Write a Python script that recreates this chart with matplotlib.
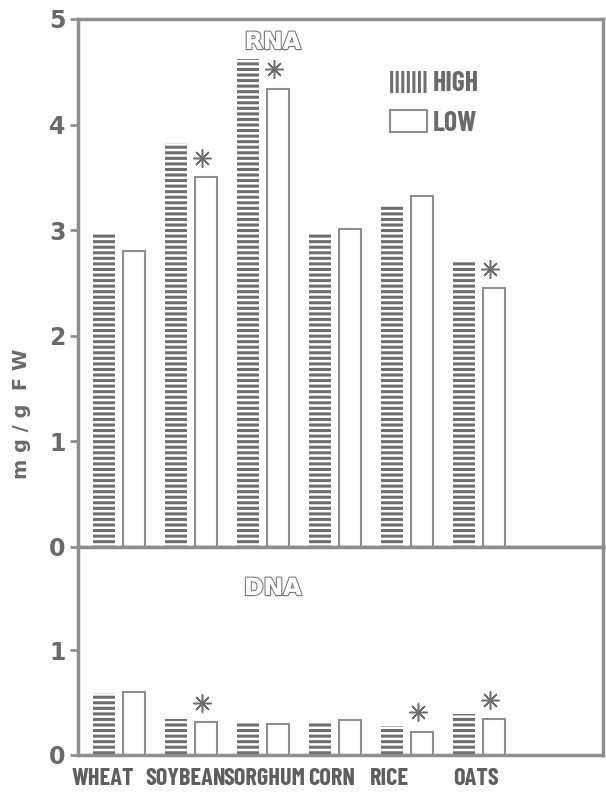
import matplotlib
matplotlib.use("Agg")
import matplotlib.pyplot as plt
import numpy as np
from matplotlib.patches import Patch
import matplotlib.patheffects as pe

plt.rcParams['hatch.linewidth'] = 2.2

crops = ["WHEAT", "SOYBEAN", "SORGHUM", "CORN", "RICE", "OATS"]
rna_high = [2.97, 3.83, 4.62, 2.97, 3.24, 2.71]
rna_low = [2.80, 3.50, 4.34, 3.01, 3.32, 2.45]
dna_high = [0.59, 0.34, 0.32, 0.32, 0.28, 0.39]
dna_low = [0.60, 0.31, 0.30, 0.33, 0.22, 0.34]
rna_sig = [False, True, True, False, False, True]
dna_sig = [False, True, False, False, True, True]
rna_ticks = [0, 1, 2, 3, 4, 5]
dna_ticks = [0, 1]
label_shift = [-0.22, -0.08, 0.02, -0.05, -0.25, -0.04]

GRAY = "#8e8e8e"
DARK = "#6e6e6e"
TXT = "#6a6a6a"
NARROW = ["Barlow Condensed", "Fira Sans Extra Condensed", "Archivo Narrow", "DejaVu Sans"]

fig = plt.figure(figsize=(6.06, 7.96), dpi=100)
L, W = 78/606, 525/606
ax1 = fig.add_axes([L, 1-547/796, W, 528/796])
ax2 = fig.add_axes([L, 1-755/796, W, 208/796])

x = np.arange(len(crops))
bw = 0.30
off = 0.21

def draw(ax, high, low, sig, ticks, ylim, title, ty):
    ax.bar(x - off, high, bw, facecolor="white", edgecolor=DARK, linewidth=0, hatch="---")
    ax.bar(x + off, low, bw, facecolor="white", edgecolor=GRAY, linewidth=1.5)
    shift = matplotlib.transforms.ScaledTranslation(-3/72, 14/72, fig.dpi_scale_trans)
    for i, s in enumerate(sig):
        if s:
            ax.plot([x[i] + off], [low[i]], linestyle="none", marker=(8, 2, 0), markersize=13,
                    markeredgecolor=DARK, markeredgewidth=1.1, transform=ax.transData + shift)
    ax.set_xlim(-0.57, 6.72)
    ax.set_ylim(*ylim)
    ax.set_yticks(ticks)
    ax.set_xticks([])
    for sp in ax.spines.values():
        sp.set_color(GRAY)
        sp.set_linewidth(2.5)
    ax.tick_params(axis="y", direction="out", length=6, width=2, color=GRAY,
                   labelsize=17, labelcolor=TXT, pad=3)
    for lab in ax.get_yticklabels():
        lab.set_fontweight("bold")
    t = ax.text(0.371, ty, title, transform=ax.transAxes, ha="center", va="center",
                fontsize=17, color="white", fontweight="bold")
    t.set_path_effects([pe.withStroke(linewidth=1.8, foreground="#7a7a7a"), pe.Normal()])

draw(ax1, rna_high, rna_low, rna_sig, rna_ticks, (0, 5), "RNA", 1 - 23/528)
draw(ax2, dna_high, dna_low, dna_sig, dna_ticks, (0, 208/105), "DNA", 1 - 41/208)

handles = [Patch(facecolor="white", edgecolor=DARK, linewidth=0, hatch="|||"),
           Patch(facecolor="white", edgecolor=GRAY, linewidth=1.5)]
leg = ax1.legend(handles, ["HIGH", "LOW"], loc="upper left", bbox_to_anchor=(0.594, 0.902),
                 frameon=False, handlelength=1.33, handleheight=0.85, handletextpad=0.22,
                 labelspacing=0.5, borderpad=0, borderaxespad=0,
                 prop=dict(family=NARROW, weight="bold", size=20))
for t in leg.get_texts():
    t.set_color(TXT)

for i, c in enumerate(crops):
    ax2.text(x[i] + label_shift[i], -0.12, c, ha="center", va="top",
             fontsize=17.5, fontweight="bold", color="#5e5e5e", family=NARROW)

fig.text(22/606, 1-414/796, "m g / g  F W", rotation=90, ha="center", va="center",
         fontsize=14, fontweight="bold", color=TXT)

fig.savefig("out.png", dpi=100, facecolor="white")
